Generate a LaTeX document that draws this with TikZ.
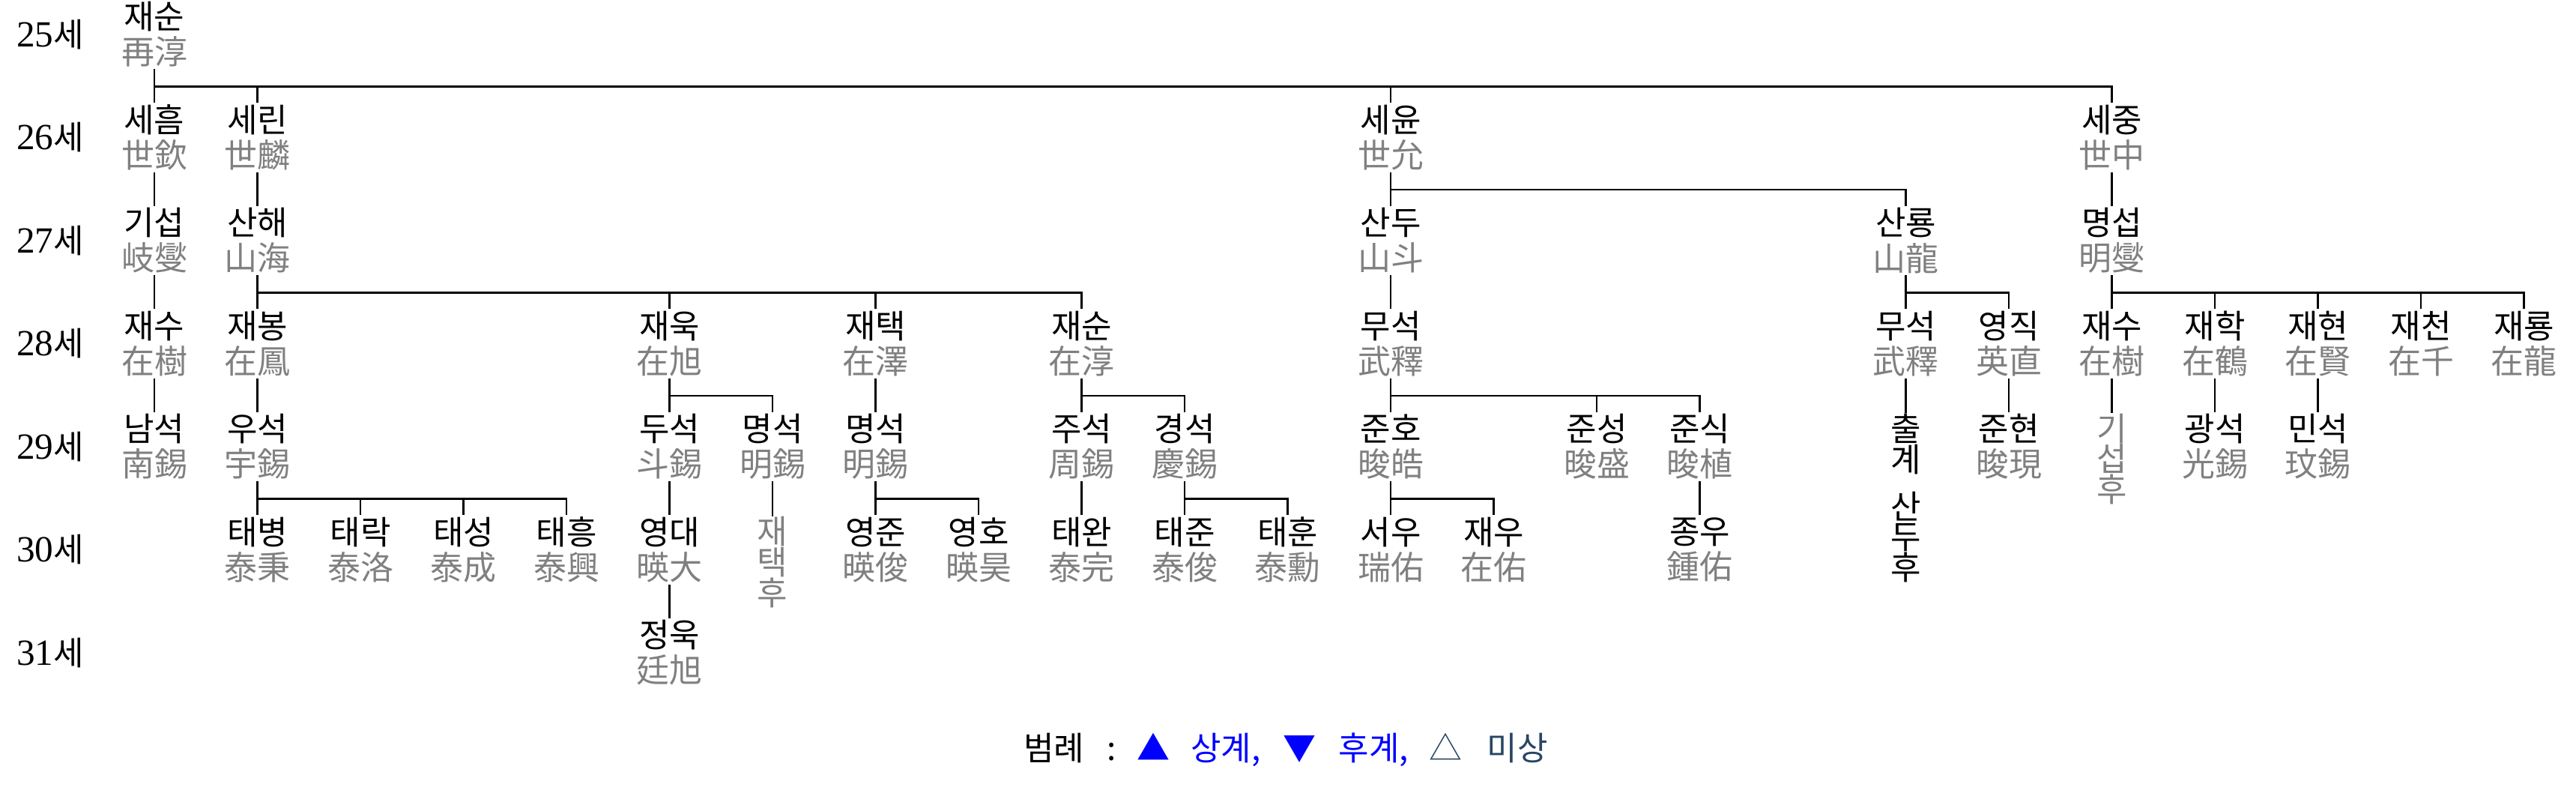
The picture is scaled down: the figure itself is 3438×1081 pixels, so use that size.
\documentclass[tikz,border=0pt]{standalone}
\usepackage{fontspec}
\setmainfont{Liberation Serif}
\newfontfamily\kr{Noto Sans CJK KR}
\definecolor{hj}{RGB}{128,128,128}
\definecolor{slate}{RGB}{40,70,100}
\newcommand\pn[5]{\node[person] (#1) at (#2,#3) {#4\\\textcolor{hj}{#5}};}
\newcommand\lnk[2]{\draw[link] (#1.south) -- ++(0,23.25) -| (#2.north);}
\begin{document}
\begin{tikzpicture}[x=0.01cm,y=-0.01cm,
  person/.style={inner sep=0pt, minimum height=0.91cm, align=center, font=\kr\fontsize{12.5pt}{13.4pt}\selectfont},
  vtext/.style={inner sep=0pt, anchor=north, align=center, font=\kr\fontsize{12.5pt}{11.6pt}\selectfont},
  gen/.style={inner sep=0pt, font=\fontsize{14pt}{16pt}\selectfont},
  link/.style={draw=black, line width=0.65pt}]
\useasboundingbox (0,0) rectangle (3438,1081);
% generation labels
\node[gen] (g25) at (67,46) {25{\kr\fontsize{12.5pt}{14pt}\selectfont 세}};
\node[gen] (g26) at (67,183.5) {26{\kr\fontsize{12.5pt}{14pt}\selectfont 세}};
\node[gen] (g27) at (67,321) {27{\kr\fontsize{12.5pt}{14pt}\selectfont 세}};
\node[gen] (g28) at (67,458.5) {28{\kr\fontsize{12.5pt}{14pt}\selectfont 세}};
\node[gen] (g29) at (67,596) {29{\kr\fontsize{12.5pt}{14pt}\selectfont 세}};
\node[gen] (g30) at (67,733.5) {30{\kr\fontsize{12.5pt}{14pt}\selectfont 세}};
\node[gen] (g31) at (67,871) {31{\kr\fontsize{12.5pt}{14pt}\selectfont 세}};
% row 0
\pn{n0}{206}{46}{재순}{再淳}
% row 1
\pn{n1a}{206}{183.5}{세흠}{世欽}
\pn{n1b}{343.5}{183.5}{세린}{世麟}
\pn{n1c}{1856}{183.5}{세윤}{世允}
\pn{n1d}{2818.5}{183.5}{세중}{世中}
% row 2
\pn{n2a}{206}{321}{기섭}{岐燮}
\pn{n2b}{343.5}{321}{산해}{山海}
\pn{n2c}{1856}{321}{산두}{山斗}
\pn{n2d}{2543.5}{321}{산룡}{山龍}
\pn{n2e}{2818.5}{321}{명섭}{明燮}
% row 3
\pn{n3a}{206}{458.5}{재수}{在樹}
\pn{n3b}{343.5}{458.5}{재봉}{在鳳}
\pn{n3c}{893.5}{458.5}{재욱}{在旭}
\pn{n3d}{1168.5}{458.5}{재택}{在澤}
\pn{n3e}{1443.5}{458.5}{재순}{在淳}
\pn{n3f}{1856}{458.5}{무석}{武釋}
\pn{n3g}{2543.5}{458.5}{무석}{武釋}
\pn{n3h}{2681}{458.5}{영직}{英直}
\pn{n3i}{2818.5}{458.5}{재수}{在樹}
\pn{n3j}{2956}{458.5}{재학}{在鶴}
\pn{n3k}{3093.5}{458.5}{재현}{在賢}
\pn{n3l}{3231}{458.5}{재천}{在千}
\pn{n3m}{3368.5}{458.5}{재룡}{在龍}
% row 4
\pn{n4a}{206}{596}{남석}{南錫}
\pn{n4b}{343.5}{596}{우석}{宇錫}
\pn{n4c}{893.5}{596}{두석}{斗錫}
\pn{n4d}{1031}{596}{명석}{明錫}
\pn{n4e}{1168.5}{596}{명석}{明錫}
\pn{n4f}{1443.5}{596}{주석}{周錫}
\pn{n4g}{1581}{596}{경석}{慶錫}
\pn{n4h}{1856}{596}{준호}{晙皓}
\pn{n4i}{2131}{596}{준성}{晙盛}
\pn{n4j}{2268.5}{596}{준식}{晙植}
\node[vtext] (v4k) at (2543.5,551) {출\\계};
\node[vtext] (v4k2) at (2543.5,655) {산\\두\\후};
\pn{n4l}{2681}{596}{준현}{晙現}
\node[vtext, text=hj] (v4m) at (2818.5,551) {기\\섭\\후};
\pn{n4n}{2956}{596}{광석}{光錫}
\pn{n4o}{3093.5}{596}{민석}{玟錫}
% row 5
\pn{n5a}{343.5}{733.5}{태병}{泰秉}
\pn{n5b}{481}{733.5}{태락}{泰洛}
\pn{n5c}{618.5}{733.5}{태성}{泰成}
\pn{n5d}{756}{733.5}{태흥}{泰興}
\pn{n5e}{893.5}{733.5}{영대}{暎大}
\node[vtext, text=hj] (v5f) at (1031,688.5) {재\\택\\후};
\pn{n5g}{1168.5}{733.5}{영준}{暎俊}
\pn{n5h}{1306}{733.5}{영호}{暎昊}
\pn{n5i}{1443.5}{733.5}{태완}{泰完}
\pn{n5j}{1581}{733.5}{태준}{泰俊}
\pn{n5k}{1718.5}{733.5}{태훈}{泰勳}
\pn{n5l}{1856}{733.5}{서우}{瑞佑}
\pn{n5m}{1993.5}{733.5}{재우}{在佑}
\pn{n5n}{2268.5}{733.5}{종우}{鍾佑}
% row 6
\pn{n6a}{893.5}{871}{정욱}{廷旭}
% connectors
\lnk{n0}{n1a}\lnk{n0}{n1b}\lnk{n0}{n1c}\lnk{n0}{n1d}
\lnk{n1a}{n2a}\lnk{n1b}{n2b}\lnk{n1c}{n2c}\lnk{n1c}{n2d}\lnk{n1d}{n2e}
\lnk{n2a}{n3a}
\lnk{n2b}{n3b}\lnk{n2b}{n3c}\lnk{n2b}{n3d}\lnk{n2b}{n3e}
\lnk{n2c}{n3f}
\lnk{n2d}{n3g}\lnk{n2d}{n3h}
\lnk{n2e}{n3i}\lnk{n2e}{n3j}\lnk{n2e}{n3k}\lnk{n2e}{n3l}\lnk{n2e}{n3m}
\lnk{n3a}{n4a}\lnk{n3b}{n4b}
\lnk{n3c}{n4c}\lnk{n3c}{n4d}
\lnk{n3d}{n4e}
\lnk{n3e}{n4f}\lnk{n3e}{n4g}
\lnk{n3f}{n4h}\lnk{n3f}{n4i}\lnk{n3f}{n4j}
\lnk{n3g}{v4k}\lnk{n3h}{n4l}\lnk{n3i}{v4m}\lnk{n3j}{n4n}\lnk{n3k}{n4o}
\lnk{n4b}{n5a}\lnk{n4b}{n5b}\lnk{n4b}{n5c}\lnk{n4b}{n5d}
\lnk{n4c}{n5e}\lnk{n4d}{v5f}
\lnk{n4e}{n5g}\lnk{n4e}{n5h}
\lnk{n4f}{n5i}
\lnk{n4g}{n5j}\lnk{n4g}{n5k}
\lnk{n4h}{n5l}\lnk{n4h}{n5m}
\lnk{n4j}{n5n}
\lnk{n5e}{n6a}
% legend
\node[inner sep=0pt, font=\kr\fontsize{12.5pt}{14pt}\selectfont] (legend) at (1716,1000)
  {범례\hspace{0.3cm}:\hspace{0.28cm}\textcolor{blue}{▲\hspace{0.28cm}상계,\hspace{0.3cm}▼\hspace{0.3cm}후계,}\hspace{0.28cm}\textcolor{slate}{△\hspace{0.33cm}미상}};
\end{tikzpicture}
\end{document}
